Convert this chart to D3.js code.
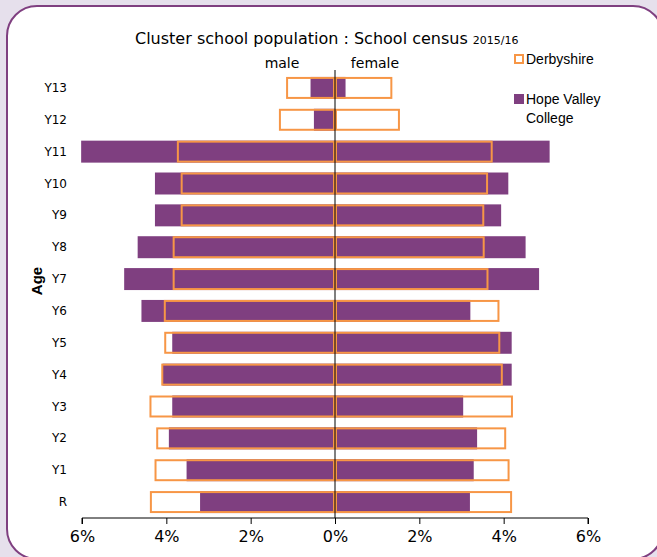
<!DOCTYPE html>
<html>
<head>
<meta charset="utf-8">
<script src="https://cdn.jsdelivr.net/npm/d3@7"></script>
<style>
  html, body { margin: 0; padding: 0; background: #e6e0ec; }
  svg { display: block; }
</style>
</head>
<body>
<div id="chart"></div>
<script>
// Age groups, top to bottom
var ages = ["Y13", "Y12", "Y11", "Y10", "Y9", "Y8", "Y7", "Y6", "Y5", "Y4", "Y3", "Y2", "Y1", "R"];

// Hope Valley College (% of population)
var hopeMale   = [0.58, 0.50, 6.02, 4.27, 4.27, 4.68, 5.00, 4.59, 3.86, 4.09, 3.86, 3.94, 3.52, 3.20];
var hopeFemale = [0.25, 0.00, 5.09, 4.11, 3.94, 4.52, 4.84, 3.21, 4.19, 4.19, 3.04, 3.37, 3.29, 3.20];

// Derbyshire (% of population)
var derbyMale   = [1.16, 1.33, 3.75, 3.66, 3.66, 3.85, 3.85, 4.06, 4.05, 4.12, 4.40, 4.24, 4.28, 4.39];
var derbyFemale = [1.36, 1.54, 3.74, 3.63, 3.54, 3.55, 3.64, 3.90, 3.92, 3.98, 4.22, 4.06, 4.14, 4.20];

var xTicks = [-6, -4, -2, 0, 2, 4, 6];

var w = 657;
var h = 557;
var purple = "#7f3f80";
var orange = "#f79646";
var gothic = "'DejaVu Sans', sans-serif";
var arial = "'Liberation Sans', Arial, sans-serif";

var svg = d3.select("#chart").append("svg").attr("width", w).attr("height", h);

// Rounded frame
svg.append("rect")
    .attr("x", 7).attr("y", 6)
    .attr("width", 656).attr("height", 553)
    .attr("rx", 30).attr("ry", 30)
    .attr("fill", "white")
    .attr("stroke", purple)
    .attr("stroke-width", 2);

var x = d3.scaleLinear().domain([-6, 6]).range([82, 588]);
var y = d3.scaleBand().domain(ages).range([72, 518]).paddingInner(0.31).paddingOuter(0.155);

// Build one row per bar side
var hope = [], derby = [];
ages.forEach(function(a, i) {
    hope.push({age: a, v: -hopeMale[i]});
    hope.push({age: a, v: hopeFemale[i]});
    derby.push({age: a, v: -derbyMale[i]});
    derby.push({age: a, v: derbyFemale[i]});
});

// Hope Valley bars
svg.selectAll("rect.hope")
    .data(hope)
    .enter()
    .append("rect")
    .attr("class", "hope")
    .attr("x", function(d) { return x(Math.min(0, d.v)); })
    .attr("y", function(d) { return y(d.age); })
    .attr("width", function(d) { return Math.abs(x(d.v) - x(0)); })
    .attr("height", y.bandwidth())
    .attr("fill", purple);

// Derbyshire outlines
svg.selectAll("rect.derby")
    .data(derby)
    .enter()
    .append("rect")
    .attr("class", "derby")
    .attr("x", function(d) { return x(Math.min(0, d.v)) + 1; })
    .attr("y", function(d) { return y(d.age) + 1; })
    .attr("width", function(d) { return Math.abs(x(d.v) - x(0)) - 2; })
    .attr("height", y.bandwidth() - 2)
    .attr("fill", "none")
    .attr("stroke", orange)
    .attr("stroke-width", 2);

// Centre line
svg.append("line")
    .attr("x1", x(0)).attr("x2", x(0))
    .attr("y1", 70).attr("y2", 518)
    .attr("stroke", "black")
    .attr("stroke-width", 1);

// Age labels
svg.selectAll("text.age")
    .data(ages)
    .enter()
    .append("text")
    .attr("class", "age")
    .text(function(d) { return d; })
    .attr("x", 67)
    .attr("y", function(d) { return y(d) + y.bandwidth() / 2 + 4; })
    .attr("text-anchor", "end")
    .attr("font-family", gothic)
    .attr("font-size", "12px")
    .attr("fill", "black");

// X axis
var xAxis = d3.axisBottom(x)
    .tickValues(xTicks)
    .tickSize(6)
    .tickFormat(function(d) { return Math.abs(d) + "%"; });

var gx = svg.append("g")
    .attr("transform", "translate(0,518)")
    .call(xAxis);
gx.select(".domain").attr("stroke", "black").attr("d", "M82,6V0H588V6");
gx.selectAll("text")
    .attr("font-family", gothic)
    .attr("font-size", "16px")
    .attr("fill", "black")
    .attr("dy", "0.95em");

// Title
var title = svg.append("text")
    .attr("x", 135).attr("y", 44)
    .attr("font-family", gothic)
    .attr("font-size", "16px")
    .attr("fill", "black");
title.append("tspan").text("Cluster school population : School census ");
title.append("tspan").attr("font-size", "11px").text("2015/16");

svg.append("text").text("male")
    .attr("x", 282).attr("y", 68)
    .attr("text-anchor", "middle")
    .attr("font-family", gothic).attr("font-size", "14px");
svg.append("text").text("female")
    .attr("x", 375).attr("y", 68)
    .attr("text-anchor", "middle")
    .attr("font-family", gothic).attr("font-size", "14px");

// Y axis title
svg.append("text").text("Age")
    .attr("transform", "translate(42,281) rotate(-90)")
    .attr("text-anchor", "middle")
    .attr("font-family", arial)
    .attr("font-weight", "bold")
    .attr("font-size", "15px");

// Legend
svg.append("rect")
    .attr("x", 515).attr("y", 55)
    .attr("width", 8).attr("height", 8)
    .attr("fill", "white")
    .attr("stroke", orange)
    .attr("stroke-width", 2);
svg.append("text").text("Derbyshire")
    .attr("x", 526).attr("y", 64)
    .attr("font-family", arial).attr("font-size", "14px");

svg.append("rect")
    .attr("x", 514).attr("y", 94)
    .attr("width", 10).attr("height", 10)
    .attr("fill", purple);
svg.append("text").text("Hope Valley")
    .attr("x", 526).attr("y", 104)
    .attr("font-family", arial).attr("font-size", "14px");
svg.append("text").text("College")
    .attr("x", 526).attr("y", 123)
    .attr("font-family", arial).attr("font-size", "14px");
</script>
</body>
</html>
